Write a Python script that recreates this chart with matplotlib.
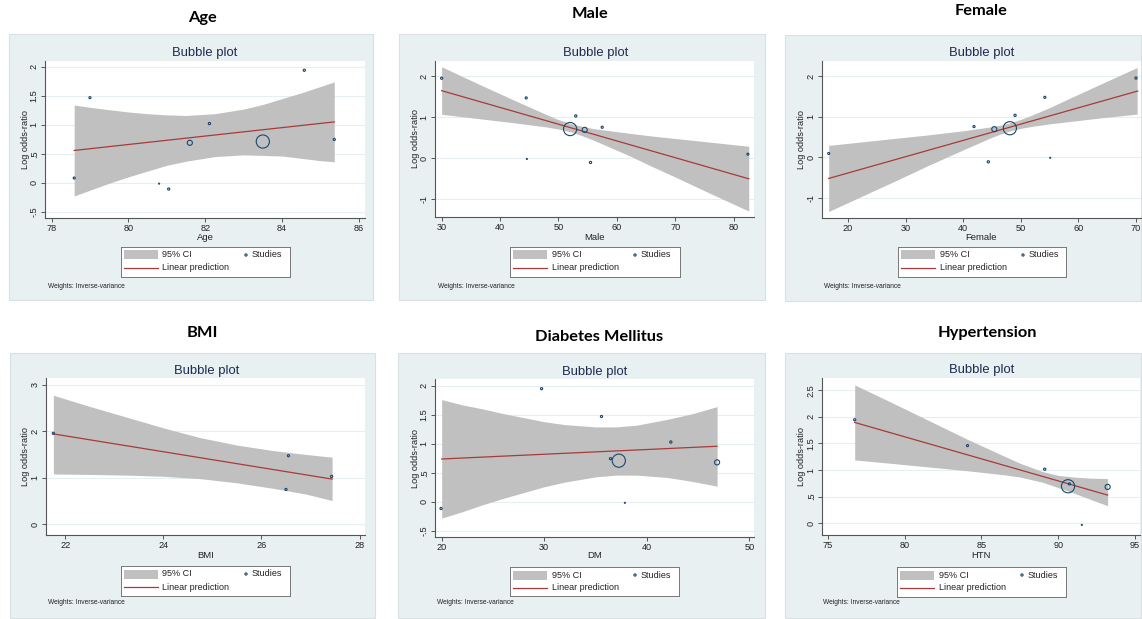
import numpy as np
import matplotlib
matplotlib.use('Agg')
import matplotlib.pyplot as plt
from matplotlib.patches import Rectangle

plt.rcParams['font.family'] = ['Liberation Sans', 'DejaVu Sans']

# ---- data: x = covariate, y = log odds-ratio, w = inverse-variance weight ----
age_x = [78.59, 79.0, 80.8, 81.05, 81.6, 82.11, 83.5, 84.58, 85.36]
age_y = [0.08, 1.467, -0.017, -0.11, 0.688, 1.02, 0.71, 1.94, 0.745]
age_w = [2.4, 2.6, 0.6, 2.8, 15, 3.0, 100, 2.8, 2.7]
age_fit_x = [78.59, 85.36]
age_fit_y = [0.556, 1.049]
age_ci_x = [78.59, 79.0, 79.5, 80.0, 80.5, 81.0, 81.5, 82.25, 83.0, 83.5, 84.0, 84.5, 85.0, 85.36]
age_ci_hi = [1.34, 1.30, 1.26, 1.22, 1.19, 1.17, 1.16, 1.19, 1.27, 1.35, 1.45, 1.55, 1.66, 1.74]
age_ci_lo = [-0.23, -0.13, -0.01, 0.10, 0.20, 0.30, 0.37, 0.45, 0.48, 0.47, 0.46, 0.42, 0.38, 0.36]

male_x = [30.0, 44.48, 44.6, 52.0, 52.97, 54.5, 55.5, 57.5, 82.45]
male_y = [1.95, 1.47, -0.02, 0.71, 1.03, 0.69, -0.105, 0.754, 0.097]
male_w = [2.8, 2.6, 0.6, 100, 3.0, 15, 2.8, 2.7, 2.4]
male_fit_x = [30.0, 82.6]
male_fit_y = [1.646, -0.503]
male_ci_x = [30, 36, 42, 48, 50, 52.2, 54, 56, 62, 66, 70, 76, 82.6]
male_ci_hi = [2.23, 1.83, 1.44, 1.06, 0.94, 0.84, 0.78, 0.72, 0.61, 0.54, 0.48, 0.39, 0.29]
male_ci_lo = [1.07, 0.97, 0.87, 0.76, 0.71, 0.64, 0.55, 0.44, 0.07, -0.20, -0.46, -0.86, -1.29]

female_x = [16.64, 41.87, 44.36, 45.4, 48.1, 49.0, 54.17, 55.1, 70.0]
female_y = [0.09, 0.754, -0.115, 0.69, 0.713, 1.03, 1.475, -0.016, 1.95]
female_w = [2.4, 2.7, 2.8, 15, 100, 3.0, 2.6, 0.6, 2.8]
female_fit_x = [16.64, 70.3]
female_fit_y = [-0.525, 1.63]
female_ci_x = [16.64, 22, 28, 34, 40, 45, 46.5, 48.2, 50, 52, 55, 58, 64, 70.2]
female_ci_hi = [0.29, 0.37, 0.46, 0.55, 0.65, 0.75, 0.79, 0.85, 0.93, 1.04, 1.22, 1.42, 1.81, 2.21]
female_ci_lo = [-1.34, -0.99, -0.60, -0.20, 0.18, 0.49, 0.57, 0.65, 0.71, 0.76, 0.82, 0.87, 0.97, 1.06]

bmi_x = [21.76, 26.5, 26.55, 27.43]
bmi_y = [1.953, 0.747, 1.472, 1.027]
bmi_w = [2.8, 2.7, 2.6, 3.0]
bmi_fit_x = [21.76, 27.44]
bmi_fit_y = [1.94, 0.97]
bmi_ci_x = [21.76, 22.5, 23.25, 24.0, 24.75, 25.5, 26.25, 26.9, 27.44]
bmi_ci_hi = [2.77, 2.53, 2.30, 2.07, 1.86, 1.70, 1.58, 1.50, 1.44]
bmi_ci_lo = [1.08, 1.07, 1.055, 1.03, 0.98, 0.89, 0.77, 0.65, 0.51]

dm_x = [19.94, 29.74, 35.58, 36.46, 37.27, 37.86, 42.34, 46.85]
dm_y = [-0.115, 1.948, 1.47, 0.743, 0.709, -0.017, 1.03, 0.68]
dm_w = [2.8, 2.8, 2.6, 2.7, 100, 0.6, 3.0, 15]
dm_fit_x = [20.0, 46.85]
dm_fit_y = [0.738, 0.957]
dm_ci_x = [20, 22, 24, 26, 28, 30, 32, 35, 37, 39, 42, 44.5, 46.85]
dm_ci_hi = [1.76, 1.67, 1.60, 1.52, 1.45, 1.38, 1.33, 1.29, 1.29, 1.32, 1.42, 1.52, 1.64]
dm_ci_lo = [-0.28, -0.17, -0.05, 0.06, 0.16, 0.26, 0.34, 0.43, 0.46, 0.46, 0.42, 0.35, 0.27]

htn_x = [76.74, 84.09, 89.12, 90.64, 90.73, 91.54, 93.22]
htn_y = [1.945, 1.46, 1.016, 0.696, 0.74, -0.03, 0.684]
htn_w = [2.8, 2.6, 3.0, 100, 2.7, 0.6, 15]
htn_fit_x = [76.74, 93.22]
htn_fit_y = [1.895, 0.53]
htn_ci_x = [76.74, 79, 81.5, 84, 86.5, 87.5, 89, 90, 91, 92, 93.22]
htn_ci_hi = [2.60, 2.29, 1.94, 1.59, 1.26, 1.13, 0.97, 0.90, 0.87, 0.85, 0.84]
htn_ci_lo = [1.19, 1.13, 1.06, 0.99, 0.91, 0.87, 0.77, 0.67, 0.57, 0.46, 0.33]

headings = ['Age', 'Male', 'Female', 'BMI', 'Diabetes Mellitus', 'Hypertension']
xlabels = ['Age', 'Male', 'Female', 'BMI', 'DM', 'HTN']

half_ticks = [-0.5, 0, 0.5, 1, 1.5, 2]
half_labels = ['-.5', '0', '.5', '1', '1.5', '2']

panels = [
    dict(x=age_x, y=age_y, w=age_w, fx=age_fit_x, fy=age_fit_y,
         cx=age_ci_x, hi=age_ci_hi, lo=age_ci_lo,
         xlim=(77.83, 86.16), ylim=(-0.61, 2.1), xt=np.arange(78, 87, 2),
         yt=half_ticks, yl=half_labels),
    dict(x=male_x, y=male_y, w=male_w, fx=male_fit_x, fy=male_fit_y,
         cx=male_ci_x, hi=male_ci_hi, lo=male_ci_lo,
         xlim=(28.86, 83.5), ylim=(-1.435, 2.37), xt=np.arange(30, 81, 10),
         yt=[-1, 0, 1, 2], yl=['-1', '0', '1', '2']),
    dict(x=female_x, y=female_y, w=female_w, fx=female_fit_x, fy=female_fit_y,
         cx=female_ci_x, hi=female_ci_hi, lo=female_ci_lo,
         xlim=(15.48, 70.87), ylim=(-1.5, 2.37), xt=np.arange(20, 71, 10),
         yt=[-1, 0, 1, 2], yl=['-1', '0', '1', '2']),
    dict(x=bmi_x, y=bmi_y, w=bmi_w, fx=bmi_fit_x, fy=bmi_fit_y,
         cx=bmi_ci_x, hi=bmi_ci_hi, lo=bmi_ci_lo,
         xlim=(21.61, 28.11), ylim=(-0.23, 3.14), xt=np.arange(22, 29, 2),
         yt=[0, 1, 2, 3], yl=['0', '1', '2', '3']),
    dict(x=dm_x, y=dm_y, w=dm_w, fx=dm_fit_x, fy=dm_fit_y,
         cx=dm_ci_x, hi=dm_ci_hi, lo=dm_ci_lo,
         xlim=(19.35, 50.45), ylim=(-0.605, 2.115), xt=np.arange(20, 51, 10),
         yt=half_ticks, yl=half_labels),
    dict(x=htn_x, y=htn_y, w=htn_w, fx=htn_fit_x, fy=htn_fit_y,
         cx=htn_ci_x, hi=htn_ci_hi, lo=htn_ci_lo,
         xlim=(74.61, 95.33), ylim=(-0.22, 2.73), xt=np.arange(75, 96, 5),
         yt=[0, 0.5, 1, 1.5, 2, 2.5], yl=['0', '.5', '1', '1.5', '2', '2.5']),
]

# pixel layout of each tile: outer box, plot region, heading baseline,
# subtitle baseline, x-label row, y-label column, legend box, note
layout = [
    dict(box=(9, 34, 373, 300), ax=(45, 61, 365, 218), head=(202, 22), sub=(205, 56),
         xlab=237, ylab=25, leg=(121, 247, 290, 277), note=(48, 286)),
    dict(box=(399, 34, 765, 300), ax=(435, 61, 754, 217), head=(590, 18), sub=(596, 56),
         xlab=237, ylab=415, leg=(510, 247, 680, 277), note=(438, 286)),
    dict(box=(785, 35, 1141, 301), ax=(822, 61, 1141, 218), head=(981, 15), sub=(982, 56),
         xlab=237, ylab=802, leg=(898, 247, 1066, 277), note=(824, 286)),
    dict(box=(10, 353, 375, 618), ax=(46, 378, 365, 535), head=(202, 337), sub=(207, 374),
         xlab=556, ylab=25, leg=(121, 566, 290, 596), note=(48, 602)),
    dict(box=(398, 353, 765, 618), ax=(435, 379, 754, 537), head=(599, 341), sub=(595, 375),
         xlab=556, ylab=415, leg=(510, 567, 679, 596), note=(437, 603)),
    dict(box=(785, 353, 1141, 618), ax=(822, 378, 1140, 535), head=(987, 337), sub=(982, 373),
         xlab=555, ylab=802, leg=(897, 567, 1066, 597), note=(823, 602)),
]

W, H = 1142, 619
BAND = '#c0c0c0'
FIT = '#a83a3a'
MARK = '#1a476f'
REGION = '#e9f0f2'


def fx(px):
    return px / W


def fy(py):
    return 1 - py / H


def rect(x0, y0, x1, y1):
    return [fx(x0), fy(y1), (x1 - x0) / W, (y1 - y0) / H]


fig = plt.figure(figsize=(W / 100, H / 100), dpi=100)

for p, lay, head, xlab in zip(panels, layout, headings, xlabels):
    bx0, by0, bx1, by1 = lay['box']
    fig.add_artist(Rectangle((fx(bx0), fy(by1)), (bx1 - bx0) / W, (by1 - by0) / H,
                             transform=fig.transFigure, facecolor=REGION,
                             edgecolor='#d9e0e2', lw=0.8, zorder=-5))

    ax = fig.add_axes(rect(*lay['ax']))
    ax.set_facecolor('white')
    ax.fill_between(p['cx'], p['lo'], p['hi'], color=BAND, lw=0, zorder=1)
    ax.plot(p['fx'], p['fy'], color=FIT, lw=0.9, zorder=2)
    ax.scatter(p['x'], p['y'], s=np.array(p['w']) * 0.9, facecolors='none',
               edgecolors=MARK, linewidths=0.8, zorder=3)

    ax.set_xlim(*p['xlim'])
    ax.set_ylim(*p['ylim'])
    ax.set_xticks(p['xt'])
    ax.set_xticklabels([str(v) for v in p['xt']])
    ax.set_yticks(p['yt'])
    ax.set_yticklabels(p['yl'])
    ax.yaxis.grid(True, color='#e6eef1', lw=0.8)
    ax.set_axisbelow(True)
    for side in ['top', 'right']:
        ax.spines[side].set_visible(False)
    for side in ['left', 'bottom']:
        ax.spines[side].set_color('#555555')
        ax.spines[side].set_linewidth(0.8)
    ax.tick_params(length=3, width=0.7, color='#555555', labelsize=6.6,
                   labelcolor='#222222', pad=1.5)
    ax.tick_params(axis='y', labelrotation=90)
    for lbl in ax.get_yticklabels():
        lbl.set_va('center')

    ax0, ay0, ax1, ay1 = lay['ax']
    fig.text(fx(lay['head'][0]), fy(lay['head'][1]), head, ha='center', va='baseline',
             fontsize=11.8, fontweight='bold', family=['Lato', 'DejaVu Sans'])
    fig.text(fx(lay['sub'][0]), fy(lay['sub'][1]), 'Bubble plot', ha='center',
             va='baseline', fontsize=9.4, color='#1c2b4f')
    fig.text(fx((ax0 + ax1) / 2), fy(lay['xlab']), xlab, ha='center', va='center',
             fontsize=6.8, color='#222222')
    fig.text(fx(lay['ylab']), fy((ay0 + ay1) / 2), 'Log odds-ratio', rotation=90,
             ha='center', va='center', fontsize=6.6, color='#222222')
    fig.text(fx(lay['note'][0]), fy(lay['note'][1]), 'Weights: Inverse-variance',
             ha='left', va='center', fontsize=4.8, color='#222222')

    # legend box
    lx0, ly0, lx1, ly1 = lay['leg']
    lax = fig.add_axes(rect(lx0, ly0, lx1, ly1))
    lax.set_xlim(0, lx1 - lx0)
    lax.set_ylim(ly1 - ly0, 0)
    lax.set_xticks([])
    lax.set_yticks([])
    lax.set_facecolor('white')
    for s in lax.spines.values():
        s.set_color('#777777')
        s.set_linewidth(0.7)
    lax.add_patch(Rectangle((2.5, 3.5), 34, 9, facecolor=BAND, lw=0))
    lax.text(41.5, 8, '95% CI', va='center', fontsize=6.5, color='#222222')
    lax.scatter([125], [8], s=2.5, facecolors='none', edgecolors=MARK, linewidths=0.8)
    lax.text(131, 8, 'Studies', va='center', fontsize=6.5, color='#222222')
    lax.plot([2.5, 36.5], [21, 21], color=FIT, lw=0.9)
    lax.text(41.5, 21, 'Linear prediction', va='center', fontsize=6.5, color='#222222')

fig.savefig('out.png', dpi=100, facecolor='white')
